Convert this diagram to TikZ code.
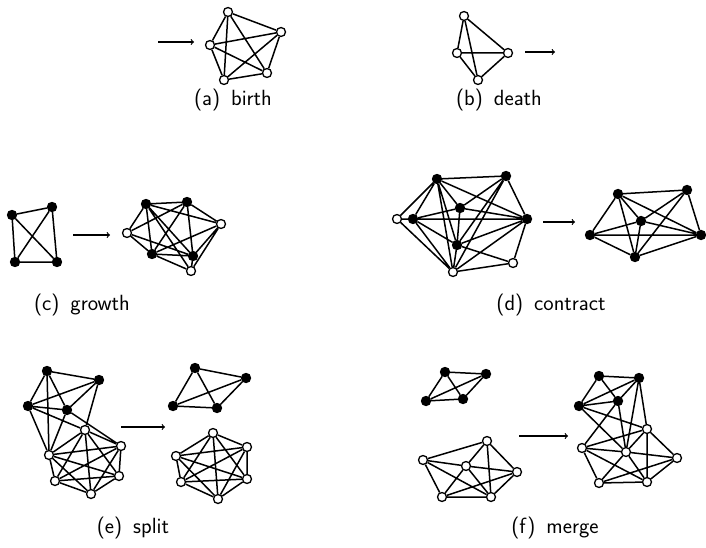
\documentclass[tikz,border=0pt]{standalone}
\usepackage{tikz}
\usetikzlibrary{calc}

\begin{document}
\begin{tikzpicture}[x=1pt,y=-1pt,line width=1.5pt,
  font=\sffamily\fontsize{22}{26}\selectfont,
  wv/.style={circle,draw,fill=white,inner sep=0pt,minimum size=9pt,line width=1.3pt},
  bv/.style={wv,fill=black},
  move/.style={->,line width=1.2pt}]
  \useasboundingbox (0,0) rectangle (706,548);
  % (a) birth
  \coordinate (aS) at (158,42);
  \coordinate (aE) at (194,42);
  \draw[move] (aS) -- (aE);
  \node[wv] (a1) at (228,12) {};
  \node[wv] (a2) at (281,32) {};
  \node[wv] (a3) at (210,45) {};
  \node[wv] (a4) at (224,80) {};
  \node[wv] (a5) at (267,73) {};
  \draw (a1) -- (a2) (a1) -- (a3) (a1) -- (a4) (a1) -- (a5)
        (a2) -- (a3) (a2) -- (a4) (a2) -- (a5)
        (a3) -- (a4) (a3) -- (a5) (a4) -- (a5);
  \node (capa) at (233,100) {(a)\hspace{0.5em}birth};
  % (b) death
  \node[wv] (b1) at (464,16) {};
  \node[wv] (b2) at (457,53) {};
  \node[wv] (b3) at (508,53) {};
  \node[wv] (b4) at (478,80) {};
  \draw (b1) -- (b2) (b1) -- (b3) (b1) -- (b4)
        (b2) -- (b3) (b2) -- (b4) (b3) -- (b4);
  \coordinate (bS) at (525,52);
  \coordinate (bE) at (555,52);
  \draw[move] (bS) -- (bE);
  \node (capb) at (499,100) {(b)\hspace{0.5em}death};
  % (c) growth
  \node[bv] (c1) at (12,215) {};
  \node[bv] (c2) at (52,207) {};
  \node[bv] (c3) at (15,262) {};
  \node[bv] (c4) at (57,262) {};
  \draw (c1) -- (c2) (c1) -- (c3) (c1) -- (c4)
        (c2) -- (c3) (c2) -- (c4) (c3) -- (c4);
  \coordinate (cS) at (73,235);
  \coordinate (cE) at (110,235);
  \draw[move] (cS) -- (cE);
  \node[bv] (g1) at (146,204) {};
  \node[bv] (g2) at (187,202) {};
  \node[wv] (g3) at (221,224) {};
  \node[wv] (g4) at (127,233) {};
  \node[bv] (g5) at (152,254) {};
  \node[bv] (g6) at (193,256) {};
  \node[wv] (g7) at (191,271) {};
  \draw (g1) -- (g2) (g1) -- (g3) (g1) -- (g4) (g1) -- (g5) (g1) -- (g6) (g1) -- (g7)
        (g2) -- (g3) (g2) -- (g4) (g2) -- (g5) (g2) -- (g6)
        (g3) -- (g5) (g3) -- (g6) (g3) -- (g7)
        (g4) -- (g5) (g4) -- (g6)
        (g5) -- (g6) (g5) -- (g7) (g6) -- (g7);
  \node (capc) at (82,305) {(c)\hspace{0.5em}growth};
  % (d) contract
  \node[bv] (dA) at (437,179) {};
  \node[bv] (dB) at (506,176) {};
  \node[bv] (dC) at (460,208) {};
  \node[wv] (dD) at (397,219) {};
  \node[bv] (dE) at (413,219) {};
  \node[bv] (dF) at (527,219) {};
  \node[bv] (dG) at (457,245) {};
  \node[wv] (dH) at (453,272) {};
  \node[wv] (dI) at (513,263) {};
  \draw (dA) -- (dB) (dA) -- (dC) (dA) -- (dE) (dA) -- (dF) (dA) -- (dG) (dA) -- (dH) (dA) -- (dD)
        (dB) -- (dC) (dB) -- (dF) (dB) -- (dG) (dB) -- (dH)
        (dC) -- (dE) (dC) -- (dF) (dC) -- (dG)
        (dD) -- (dE) (dD) -- (dH)
        (dE) -- (dF) (dE) -- (dG) (dE) -- (dH)
        (dF) -- (dG) (dF) -- (dH) (dF) -- (dI)
        (dG) -- (dH) (dG) -- (dI) (dH) -- (dI);
  \coordinate (dS) at (543,222);
  \coordinate (dT) at (575,222);
  \draw[move] (dS) -- (dT);
  \node[bv] (kA) at (618,194) {};
  \node[bv] (kB) at (687,190) {};
  \node[bv] (kC) at (641,221) {};
  \node[bv] (kE) at (590,235) {};
  \node[bv] (kF) at (701,235) {};
  \node[bv] (kG) at (635,257) {};
  \draw (kA) -- (kB) (kA) -- (kC) (kA) -- (kE) (kA) -- (kF) (kA) -- (kG)
        (kB) -- (kC) (kB) -- (kF) (kB) -- (kG)
        (kC) -- (kE) (kC) -- (kF) (kC) -- (kG)
        (kE) -- (kF) (kE) -- (kG) (kF) -- (kG);
  \node (capd) at (551,305) {(d)\hspace{0.5em}contract};
  % (e) split
  \node[bv] (e1) at (47,371) {};
  \node[bv] (e2) at (99,380) {};
  \node[bv] (e3) at (28,406) {};
  \node[bv] (e4) at (67,410) {};
  \node[wv] (e5) at (85,430) {};
  \node[wv] (e6) at (121,446) {};
  \node[wv] (e7) at (49,455) {};
  \node[wv] (e8) at (119,476) {};
  \node[wv] (e9) at (55,481) {};
  \node[wv] (e10) at (91,494) {};
  \draw (e1) -- (e2) (e1) -- (e3) (e1) -- (e4) (e1) -- (e7)
        (e2) -- (e3) (e2) -- (e4) (e2) -- (e5)
        (e3) -- (e4) (e3) -- (e5) (e3) -- (e7)
        (e4) -- (e6) (e4) -- (e7)
        (e5) -- (e6) (e5) -- (e7) (e5) -- (e8) (e5) -- (e9) (e5) -- (e10)
        (e6) -- (e7) (e6) -- (e8) (e6) -- (e9) (e6) -- (e10)
        (e7) -- (e8) (e7) -- (e9) (e7) -- (e10)
        (e8) -- (e9) (e8) -- (e10) (e9) -- (e10);
  \coordinate (eS) at (121,427);
  \coordinate (eE) at (165,427);
  \draw[move] (eS) -- (eE);
  \node[bv] (s1) at (195,368) {};
  \node[bv] (s2) at (246,378) {};
  \node[bv] (s3) at (173,406) {};
  \node[bv] (s4) at (217,408) {};
  \draw (s1) -- (s2) (s1) -- (s3) (s1) -- (s4)
        (s2) -- (s3) (s2) -- (s4) (s3) -- (s4);
  \node[wv] (t1) at (213,433) {};
  \node[wv] (t2) at (247,447) {};
  \node[wv] (t3) at (176,456) {};
  \node[wv] (t4) at (181,482) {};
  \node[wv] (t5) at (247,479) {};
  \node[wv] (t6) at (218,499) {};
  \draw (t1) -- (t2) (t1) -- (t3) (t1) -- (t4) (t1) -- (t5) (t1) -- (t6)
        (t2) -- (t3) (t2) -- (t4) (t2) -- (t5) (t2) -- (t6)
        (t3) -- (t4) (t3) -- (t5) (t3) -- (t6)
        (t4) -- (t5) (t4) -- (t6) (t5) -- (t6);
  \node (cape) at (133,528) {(e)\hspace{0.5em}split};
  % (f) merge
  \node[bv] (f1) at (445,372) {};
  \node[bv] (f2) at (486,374) {};
  \node[bv] (f3) at (426,401) {};
  \node[bv] (f4) at (463,399) {};
  \draw (f1) -- (f2) (f1) -- (f3) (f1) -- (f4)
        (f2) -- (f3) (f2) -- (f4) (f3) -- (f4);
  \node[wv] (p1) at (487,441) {};
  \node[wv] (p2) at (423,460) {};
  \node[wv] (p3) at (466,466) {};
  \node[wv] (p4) at (517,472) {};
  \node[wv] (p5) at (442,497) {};
  \node[wv] (p6) at (491,497) {};
  \draw (p1) -- (p2) (p1) -- (p3) (p1) -- (p4) (p1) -- (p6)
        (p2) -- (p3) (p2) -- (p5) (p2) -- (p6)
        (p3) -- (p4) (p3) -- (p5) (p3) -- (p6)
        (p4) -- (p5) (p4) -- (p6) (p5) -- (p6);
  \coordinate (fS) at (519,436);
  \coordinate (fE) at (568,436);
  \draw[move] (fS) -- (fE);
  \node[bv] (m1) at (599,376) {};
  \node[bv] (m2) at (639,378) {};
  \node[bv] (m3) at (579,406) {};
  \node[bv] (m4) at (618,401) {};
  \node[wv] (q1) at (647,429) {};
  \node[wv] (q2) at (582,448) {};
  \node[wv] (q3) at (626,452) {};
  \node[wv] (q4) at (677,458) {};
  \node[wv] (q5) at (599,483) {};
  \node[wv] (q6) at (647,482) {};
  \draw (m1) -- (m2) (m1) -- (m3) (m1) -- (m4)
        (m2) -- (m3) (m2) -- (m4) (m3) -- (m4)
        (m2) -- (q1) (m2) -- (q3) (m3) -- (q1) (m3) -- (q3)
        (m4) -- (q2) (m4) -- (q3)
        (q1) -- (q2) (q1) -- (q3) (q1) -- (q4) (q1) -- (q6)
        (q2) -- (q3) (q2) -- (q5) (q2) -- (q6)
        (q3) -- (q4) (q3) -- (q5) (q3) -- (q6)
        (q4) -- (q5) (q4) -- (q6) (q5) -- (q6);
  \node (capf) at (555,528) {(f)\hspace{0.5em}merge};
\end{tikzpicture}
\end{document}
